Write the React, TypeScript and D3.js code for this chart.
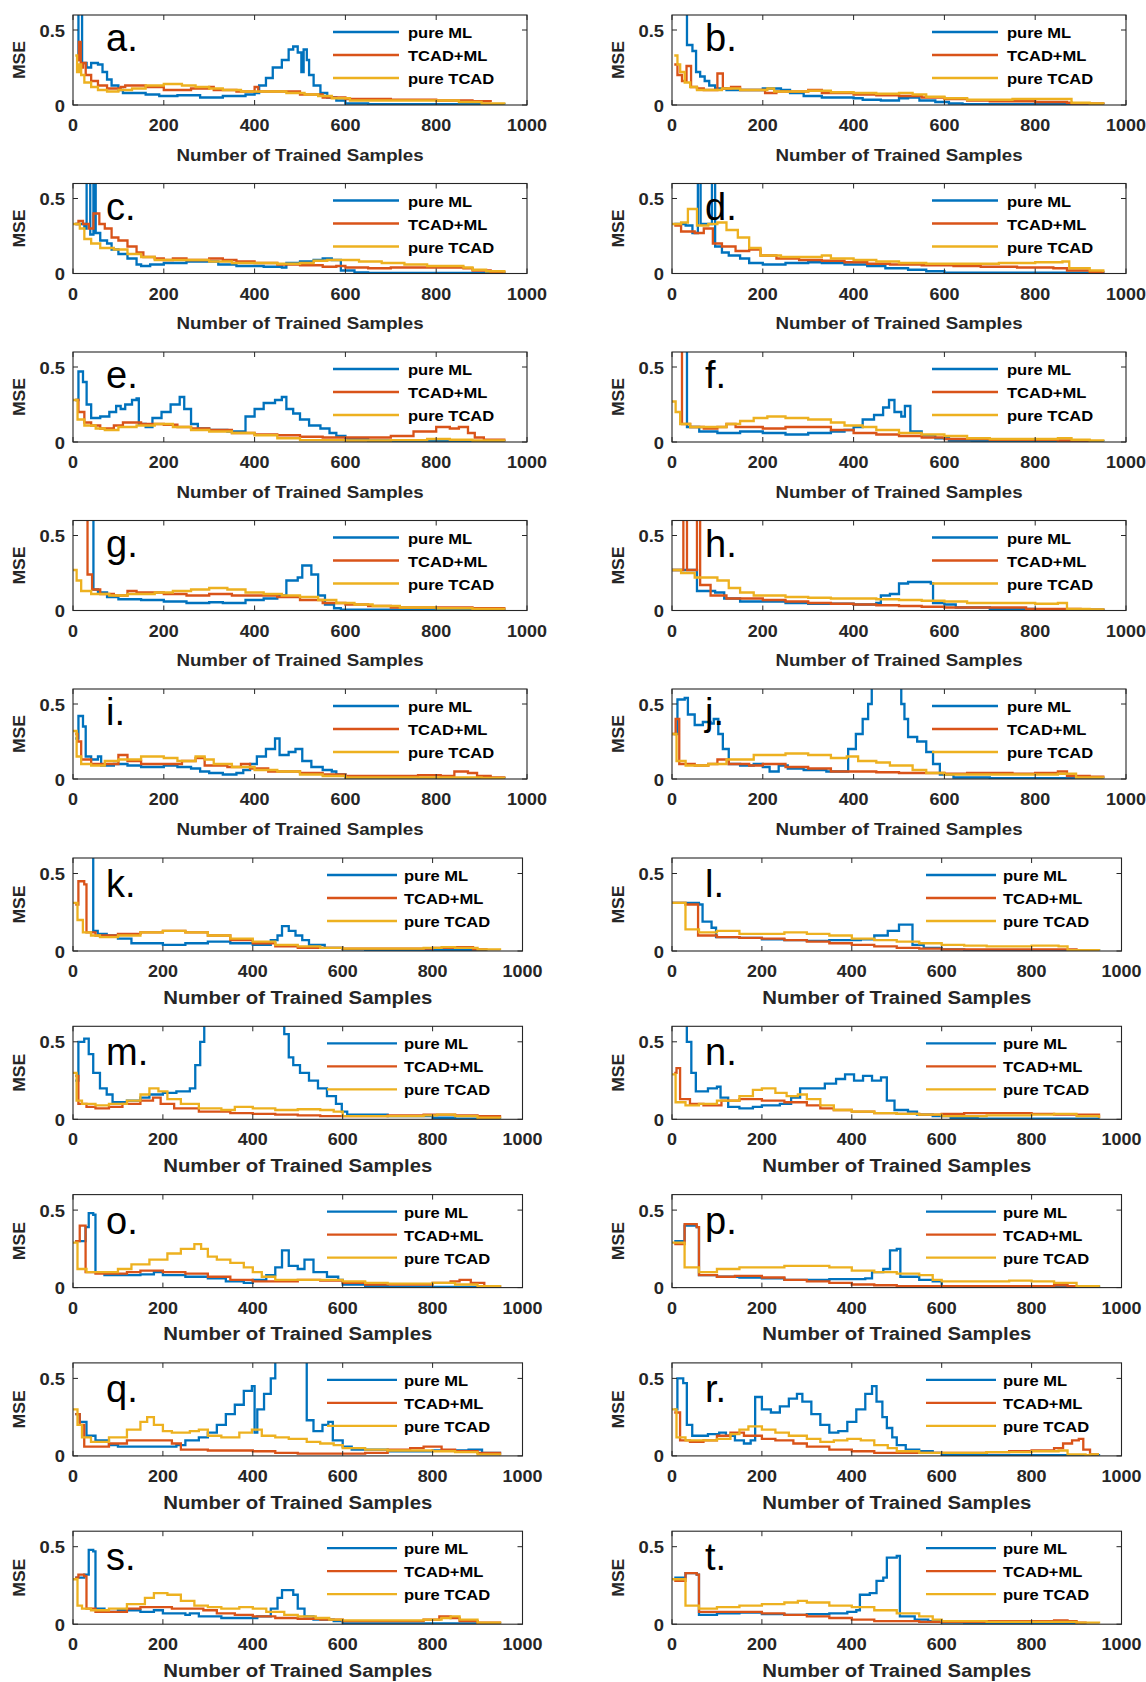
import React from 'react';
import * as d3 from 'd3';

type Pt = [number, number];

const SERIES_NAMES = ['pure ML', 'TCAD+ML', 'pure TCAD'];
const SERIES_COLORS = ['#0072BD', '#D95319', '#EDB120'];
const X_TICKS = [0, 200, 400, 600, 800, 1000];
const Y_TICKS = [0, 0.5];
const X_DOMAIN: [number, number] = [0, 1000];
const Y_DOMAIN: [number, number] = [0, 0.6];
const PANEL_LABELS = ['a.', 'b.', 'c.', 'd.', 'e.', 'f.', 'g.', 'h.', 'i.', 'j.', 'k.', 'l.', 'm.', 'n.', 'o.', 'p.', 'q.', 'r.', 's.', 't.'];

// ---- a ----
const aML: Pt[] = [[10,0.3],[12,0.8],[20,0.28],[30,0.25],[40,0.28],[55,0.27],[65,0.22],[75,0.17],[85,0.13],[100,0.1],[110,0.08],[160,0.07],[190,0.06],[230,0.065],[280,0.05],[330,0.06],[380,0.07],[400,0.08],[410,0.13],[425,0.18],[440,0.25],[460,0.3],[475,0.37],[485,0.39],[495,0.35],[503,0.22],[508,0.37],[515,0.3],[520,0.2],[530,0.13],[545,0.08],[560,0.05],[580,0.03],[600,0.01],[650,0.005],[950,0.003]];
const aHY: Pt[] = [[8,0.3],[13,0.42],[17,0.25],[22,0.28],[28,0.2],[40,0.16],[55,0.13],[75,0.11],[105,0.12],[115,0.13],[160,0.12],[200,0.1],[260,0.11],[300,0.12],[310,0.1],[360,0.09],[400,0.12],[408,0.09],[450,0.09],[500,0.07],[550,0.05],[600,0.04],[700,0.035],[800,0.03],[880,0.025],[920,0.02]];
const aTC: Pt[] = [[5,0.33],[9,0.22],[14,0.27],[18,0.2],[25,0.15],[40,0.12],[55,0.1],[75,0.09],[100,0.1],[130,0.11],[160,0.13],[200,0.14],[240,0.13],[270,0.12],[300,0.11],[330,0.1],[370,0.09],[420,0.09],[470,0.08],[510,0.07],[540,0.06],[570,0.045],[610,0.03],[700,0.03],[800,0.03],[850,0.02],[900,0.01],[950,0.005]];
// ---- b ----
const bML: Pt[] = [[20,0.8],[33,0.4],[45,0.36],[53,0.22],[62,0.19],[72,0.16],[82,0.13],[95,0.11],[120,0.1],[160,0.1],[200,0.11],[240,0.1],[260,0.08],[290,0.06],[330,0.05],[400,0.045],[420,0.035],[460,0.03],[500,0.045],[520,0.05],[545,0.03],[580,0.02],[610,0.01],[640,0.005],[950,0.003]];
const bHY: Pt[] = [[5,0.27],[12,0.2],[22,0.16],[32,0.26],[42,0.12],[55,0.11],[70,0.1],[95,0.1],[100,0.21],[112,0.11],[130,0.12],[150,0.1],[200,0.1],[205,0.08],[230,0.09],[260,0.09],[300,0.1],[330,0.08],[400,0.07],[450,0.065],[500,0.06],[550,0.05],[600,0.04],[650,0.03],[700,0.025],[800,0.02],[870,0.015],[880,0.01],[950,0.005]];
const bTC: Pt[] = [[5,0.33],[12,0.27],[18,0.22],[28,0.15],[40,0.12],[55,0.1],[80,0.1],[110,0.11],[150,0.1],[200,0.1],[210,0.11],[225,0.09],[270,0.09],[300,0.095],[350,0.085],[400,0.08],[450,0.075],[500,0.08],[530,0.07],[560,0.055],[600,0.045],[650,0.035],[700,0.035],[750,0.04],[870,0.04],[880,0.015],[920,0.01],[950,0.005]];
// ---- c ----
const cML: Pt[] = [[5,0.33],[25,0.3],[30,0.8],[38,0.26],[45,0.8],[50,0.27],[60,0.22],[75,0.2],[85,0.16],[100,0.13],[120,0.1],[140,0.06],[150,0.05],[170,0.06],[200,0.07],[250,0.08],[300,0.08],[320,0.06],[360,0.05],[420,0.045],[460,0.04],[470,0.07],[500,0.08],[530,0.09],[550,0.1],[570,0.09],[590,0.02],[620,0.008],[650,0.004],[950,0.003]];
const cHY: Pt[] = [[5,0.33],[12,0.35],[22,0.33],[35,0.3],[45,0.4],[58,0.33],[70,0.3],[85,0.24],[100,0.22],[120,0.18],[140,0.14],[155,0.11],[180,0.1],[200,0.09],[220,0.1],[250,0.09],[300,0.1],[330,0.09],[360,0.08],[400,0.07],[450,0.06],[500,0.055],[550,0.045],[580,0.05],[600,0.04],[650,0.035],[700,0.04],[800,0.04],[860,0.035],[880,0.02],[920,0.01],[950,0.005]];
const cTC: Pt[] = [[0,0.33],[15,0.3],[25,0.23],[40,0.2],[60,0.17],[90,0.16],[120,0.13],[150,0.11],[180,0.09],[250,0.09],[300,0.08],[350,0.07],[400,0.07],[450,0.065],[500,0.07],[530,0.085],[560,0.09],[600,0.09],[630,0.08],[680,0.07],[730,0.06],[780,0.05],[860,0.04],[880,0.025],[910,0.015],[950,0.005]];
// ---- d ----
const dML: Pt[] = [[5,0.33],[30,0.32],[45,0.27],[57,0.8],[63,0.33],[88,0.8],[95,0.18],[110,0.14],[125,0.12],[150,0.1],[170,0.07],[200,0.06],[250,0.07],[300,0.075],[330,0.07],[380,0.06],[430,0.05],[470,0.035],[520,0.025],[560,0.015],[600,0.005],[950,0.003]];
const dHY: Pt[] = [[5,0.32],[20,0.28],[50,0.27],[70,0.3],[90,0.2],[110,0.18],[140,0.15],[170,0.16],[195,0.12],[230,0.1],[280,0.09],[330,0.085],[380,0.075],[430,0.065],[480,0.06],[550,0.055],[620,0.05],[680,0.045],[760,0.04],[840,0.035],[870,0.02],[920,0.01],[950,0.005]];
const dTC: Pt[] = [[0,0.33],[20,0.34],[35,0.43],[55,0.32],[80,0.33],[100,0.34],[120,0.29],[145,0.24],[170,0.17],[195,0.12],[240,0.11],[300,0.11],[330,0.12],[350,0.1],[400,0.09],[450,0.08],[500,0.07],[560,0.065],[650,0.065],[720,0.07],[800,0.075],[860,0.08],[875,0.035],[920,0.02],[950,0.01]];
// ---- e ----
const eML: Pt[] = [[5,0.28],[12,0.47],[22,0.4],[30,0.25],[40,0.16],[60,0.17],[80,0.2],[95,0.24],[105,0.22],[115,0.25],[130,0.28],[140,0.29],[145,0.12],[160,0.1],[175,0.16],[195,0.2],[215,0.25],[235,0.3],[245,0.22],[260,0.12],[275,0.09],[300,0.08],[340,0.07],[370,0.07],[380,0.17],[400,0.22],[420,0.26],[445,0.28],[460,0.3],[470,0.22],[485,0.19],[500,0.15],[520,0.11],[545,0.09],[565,0.06],[580,0.04],[600,0.02],[650,0.01],[700,0.005],[950,0.003]];
const eHY: Pt[] = [[5,0.28],[12,0.2],[25,0.13],[40,0.11],[60,0.09],[90,0.11],[110,0.13],[150,0.12],[200,0.115],[230,0.1],[260,0.09],[300,0.08],[350,0.06],[400,0.05],[450,0.045],[500,0.035],[550,0.03],[650,0.03],[700,0.04],[750,0.07],[800,0.1],[830,0.09],[850,0.1],[870,0.06],[885,0.03],[905,0.015],[950,0.005]];
const eTC: Pt[] = [[0,0.28],[10,0.15],[25,0.11],[50,0.09],[70,0.08],[100,0.1],[140,0.11],[180,0.12],[220,0.1],[260,0.08],[300,0.07],[350,0.06],[400,0.045],[450,0.025],[500,0.012],[600,0.01],[700,0.012],[780,0.02],[830,0.015],[880,0.01],[950,0.005]];
// ---- f ----
const fML: Pt[] = [[5,0.8],[33,0.1],[60,0.07],[100,0.06],[150,0.07],[200,0.06],[250,0.05],[300,0.06],[350,0.07],[380,0.08],[400,0.1],[420,0.15],[445,0.18],[465,0.23],[478,0.28],[490,0.2],[505,0.17],[513,0.24],[525,0.07],[550,0.045],[580,0.025],[610,0.01],[660,0.005],[950,0.003]];
const fHY: Pt[] = [[5,0.8],[22,0.12],[40,0.1],[70,0.09],[100,0.1],[120,0.12],[140,0.1],[200,0.09],[250,0.1],[300,0.1],[350,0.08],[400,0.06],[450,0.05],[500,0.04],[550,0.03],[600,0.02],[700,0.015],[800,0.015],[850,0.01],[920,0.005]];
const fTC: Pt[] = [[0,0.27],[8,0.2],[18,0.12],[40,0.1],[80,0.1],[120,0.12],[150,0.14],[180,0.16],[210,0.17],[250,0.16],[300,0.15],[350,0.13],[380,0.11],[420,0.1],[450,0.08],[500,0.06],[550,0.05],[600,0.04],[650,0.025],[700,0.02],[800,0.02],[850,0.025],[880,0.015],[920,0.01],[950,0.005]];
// ---- g ----
const gML: Pt[] = [[5,0.8],[45,0.14],[55,0.12],[75,0.09],[100,0.075],[150,0.07],[200,0.06],[250,0.05],[300,0.055],[330,0.05],[380,0.07],[420,0.08],[450,0.1],[470,0.2],[495,0.22],[505,0.3],[525,0.24],[540,0.1],[555,0.04],[575,0.015],[590,0.005],[950,0.003]];
const gHY: Pt[] = [[10,0.8],[32,0.24],[42,0.14],[60,0.11],[90,0.1],[120,0.13],[140,0.12],[200,0.11],[250,0.1],[300,0.11],[350,0.1],[400,0.1],[450,0.09],[500,0.07],[550,0.05],[600,0.04],[650,0.03],[700,0.02],[800,0.02],[880,0.015],[950,0.005]];
const gTC: Pt[] = [[0,0.27],[8,0.2],[18,0.13],[40,0.11],[80,0.1],[120,0.11],[180,0.12],[220,0.13],[260,0.14],[300,0.15],[340,0.14],[380,0.12],[420,0.11],[460,0.1],[500,0.09],[540,0.07],[580,0.05],[620,0.04],[660,0.03],[720,0.02],[800,0.015],[880,0.01],[950,0.005]];
// ---- h ----
const hML: Pt[] = [[0,0.27],[55,0.13],[95,0.12],[115,0.08],[150,0.06],[200,0.06],[250,0.05],[300,0.045],[400,0.04],[450,0.05],[460,0.1],[480,0.11],[500,0.18],[520,0.19],[570,0.18],[575,0.05],[600,0.04],[625,0.02],[700,0.01],[800,0.005],[950,0.003]];
const hHY: Pt[] = [[0,0.27],[25,0.8],[33,0.27],[55,0.8],[62,0.17],[85,0.1],[120,0.08],[200,0.07],[250,0.06],[300,0.05],[350,0.045],[400,0.04],[450,0.035],[500,0.03],[550,0.025],[600,0.02],[700,0.02],[780,0.01],[900,0.005],[950,0.003]];
const hTC: Pt[] = [[0,0.27],[20,0.25],[50,0.22],[100,0.2],[125,0.15],[150,0.12],[180,0.1],[250,0.09],[300,0.085],[350,0.08],[450,0.075],[500,0.07],[550,0.065],[600,0.06],[650,0.05],[700,0.05],[800,0.045],[850,0.05],[870,0.01],[920,0.008],[950,0.005]];
// ---- i ----
const iML: Pt[] = [[5,0.27],[12,0.42],[22,0.35],[28,0.15],[40,0.13],[55,0.15],[62,0.09],[90,0.1],[120,0.09],[150,0.08],[200,0.09],[230,0.08],[260,0.07],[280,0.05],[300,0.04],[330,0.03],[360,0.04],[375,0.06],[390,0.1],[405,0.15],[425,0.2],[445,0.27],[455,0.16],[475,0.18],[490,0.2],[505,0.12],[525,0.08],[550,0.06],[570,0.05],[580,0.03],[600,0.01],[700,0.005],[950,0.003]];
const iHY: Pt[] = [[5,0.3],[10,0.25],[18,0.13],[40,0.1],[80,0.1],[100,0.16],[120,0.12],[150,0.1],[200,0.1],[240,0.12],[270,0.14],[290,0.09],[340,0.08],[370,0.1],[390,0.07],[430,0.05],[500,0.04],[550,0.03],[600,0.02],[700,0.02],[760,0.025],[810,0.02],[840,0.05],[870,0.04],[890,0.02],[920,0.01],[950,0.005]];
const iTC: Pt[] = [[0,0.32],[8,0.15],[18,0.1],[40,0.09],[70,0.12],[100,0.13],[150,0.15],[200,0.14],[230,0.12],[270,0.15],[290,0.13],[310,0.1],[350,0.08],[400,0.06],[450,0.05],[480,0.05],[500,0.03],[550,0.02],[600,0.01],[800,0.01],[900,0.008],[950,0.005]];
// ---- j ----
const jML: Pt[] = [[5,0.3],[12,0.53],[28,0.54],[35,0.43],[50,0.36],[68,0.38],[85,0.37],[92,0.4],[102,0.3],[112,0.2],[125,0.1],[150,0.09],[180,0.1],[200,0.08],[215,0.05],[235,0.09],[255,0.07],[290,0.06],[340,0.05],[380,0.05],[388,0.2],[405,0.3],[420,0.4],[432,0.5],[440,0.8],[505,0.5],[512,0.4],[520,0.28],[540,0.25],[560,0.18],[575,0.1],[590,0.03],[620,0.01],[700,0.005],[950,0.003]];
const jHY: Pt[] = [[0,0.3],[8,0.4],[16,0.1],[50,0.09],[80,0.1],[100,0.13],[125,0.1],[170,0.09],[200,0.1],[250,0.08],[300,0.07],[350,0.05],[400,0.05],[450,0.045],[500,0.04],[600,0.035],[650,0.04],[700,0.04],[750,0.035],[800,0.04],[850,0.05],[870,0.02],[920,0.015],[950,0.01]];
const jTC: Pt[] = [[0,0.3],[10,0.12],[30,0.09],[80,0.1],[120,0.13],[180,0.16],[250,0.17],[300,0.16],[350,0.14],[385,0.15],[410,0.12],[450,0.11],[480,0.09],[530,0.06],[560,0.04],[600,0.03],[700,0.03],[800,0.03],[850,0.035],[890,0.01],[950,0.005]];
// ---- k ----
const kML: Pt[] = [[30,0.8],[45,0.13],[55,0.11],[75,0.1],[100,0.08],[130,0.05],[200,0.04],[250,0.05],[300,0.06],[350,0.05],[400,0.04],[440,0.07],[455,0.1],[465,0.16],[480,0.13],[495,0.1],[510,0.07],[525,0.04],[560,0.02],[600,0.01],[650,0.005],[920,0.003]];
const kHY: Pt[] = [[5,0.3],[12,0.45],[25,0.43],[30,0.12],[50,0.1],[100,0.11],[150,0.12],[200,0.13],[250,0.12],[300,0.1],[350,0.07],[400,0.05],[450,0.03],[500,0.02],[600,0.015],[700,0.015],[800,0.02],[850,0.025],[890,0.01],[920,0.005]];
const kTC: Pt[] = [[0,0.31],[10,0.2],[22,0.12],[40,0.1],[60,0.09],[100,0.1],[150,0.12],[200,0.13],[250,0.12],[300,0.1],[350,0.08],[400,0.06],[450,0.04],[500,0.03],[550,0.02],[600,0.015],[700,0.015],[780,0.02],[820,0.025],[850,0.02],[900,0.01],[950,0.005]];
// ---- l ----
const lML: Pt[] = [[0,0.31],[60,0.3],[68,0.19],[88,0.15],[98,0.09],[150,0.085],[200,0.075],[250,0.07],[300,0.065],[350,0.07],[420,0.075],[450,0.1],[480,0.13],[505,0.17],[535,0.04],[560,0.02],[600,0.01],[650,0.005],[950,0.003]];
const lHY: Pt[] = [[0,0.31],[30,0.3],[58,0.1],[100,0.09],[150,0.085],[200,0.08],[250,0.07],[300,0.06],[350,0.05],[400,0.04],[450,0.03],[500,0.02],[550,0.015],[600,0.01],[850,0.01],[900,0.005],[920,0.003]];
const lTC: Pt[] = [[0,0.31],[30,0.14],[60,0.12],[100,0.13],[150,0.11],[200,0.11],[250,0.12],[300,0.11],[350,0.1],[400,0.08],[450,0.07],[500,0.06],[550,0.05],[600,0.04],[650,0.035],[700,0.03],[800,0.035],[860,0.03],[880,0.005],[950,0.003]];
// ---- m ----
const mML: Pt[] = [[5,0.25],[12,0.5],[25,0.52],[35,0.42],[45,0.3],[60,0.2],[75,0.16],[88,0.11],[120,0.12],[150,0.14],[170,0.16],[200,0.17],[230,0.18],[260,0.2],[272,0.35],[283,0.5],[292,0.8],[470,0.55],[480,0.4],[490,0.35],[505,0.3],[525,0.25],[545,0.2],[565,0.15],[585,0.1],[598,0.05],[610,0.03],[700,0.02],[800,0.01],[850,0.005],[950,0.003]];
const mHY: Pt[] = [[5,0.28],[12,0.1],[30,0.08],[50,0.07],[80,0.08],[110,0.1],[150,0.12],[178,0.14],[195,0.1],[225,0.07],[280,0.05],[350,0.04],[400,0.035],[450,0.03],[500,0.025],[550,0.02],[600,0.02],[700,0.025],[780,0.03],[850,0.025],[900,0.02],[950,0.01]];
const mTC: Pt[] = [[0,0.3],[8,0.12],[20,0.1],[50,0.09],[80,0.1],[120,0.12],[150,0.16],[170,0.2],[190,0.18],[210,0.13],[240,0.1],[280,0.07],[330,0.06],[360,0.08],[400,0.07],[450,0.06],[500,0.065],[550,0.06],[580,0.05],[600,0.02],[700,0.02],[780,0.025],[810,0.03],[850,0.02],[900,0.01],[950,0.005]];
// ---- n ----
const nML: Pt[] = [[12,0.8],[33,0.5],[43,0.3],[53,0.18],[80,0.2],[100,0.21],[108,0.14],[125,0.08],[150,0.07],[180,0.08],[200,0.09],[240,0.1],[265,0.14],[285,0.2],[320,0.2],[340,0.23],[365,0.26],[385,0.29],[405,0.25],[425,0.28],[445,0.25],[465,0.27],[478,0.12],[495,0.06],[525,0.05],[545,0.03],[580,0.02],[620,0.01],[680,0.005],[950,0.003]];
const nHY: Pt[] = [[5,0.3],[10,0.33],[18,0.13],[40,0.1],[70,0.09],[110,0.12],[150,0.13],[200,0.12],[250,0.11],[300,0.09],[330,0.07],[360,0.06],[400,0.05],[450,0.04],[500,0.035],[550,0.03],[600,0.035],[650,0.04],[700,0.04],[800,0.035],[850,0.03],[900,0.03],[950,0.01]];
const nTC: Pt[] = [[0,0.29],[8,0.11],[30,0.09],[60,0.1],[100,0.12],[150,0.15],[180,0.19],[200,0.2],[230,0.17],[255,0.15],[280,0.16],[300,0.13],[330,0.09],[360,0.06],[400,0.05],[450,0.04],[500,0.035],[550,0.03],[600,0.02],[700,0.025],[800,0.03],[850,0.035],[900,0.02],[950,0.01]];
// ---- o ----
const oML: Pt[] = [[5,0.3],[28,0.39],[35,0.48],[45,0.47],[50,0.1],[70,0.08],[100,0.08],[150,0.085],[180,0.1],[200,0.08],[250,0.07],[300,0.06],[340,0.04],[380,0.03],[400,0.05],[430,0.08],[450,0.13],[465,0.24],[480,0.14],[500,0.12],[515,0.18],[535,0.1],[565,0.07],[590,0.05],[600,0.02],[650,0.01],[700,0.005],[950,0.003]];
const oHY: Pt[] = [[5,0.3],[15,0.4],[28,0.1],[50,0.09],[80,0.09],[120,0.1],[150,0.11],[200,0.1],[250,0.09],[300,0.07],[350,0.05],[400,0.04],[450,0.04],[500,0.05],[550,0.045],[600,0.03],[650,0.02],[700,0.02],[800,0.03],[840,0.04],[860,0.05],[885,0.03],[915,0.01],[950,0.005]];
const oTC: Pt[] = [[0,0.29],[10,0.12],[30,0.1],[70,0.1],[100,0.12],[130,0.15],[170,0.18],[210,0.22],[240,0.25],[270,0.28],[285,0.25],[300,0.2],[320,0.18],[350,0.16],[380,0.13],[400,0.1],[420,0.07],[450,0.05],[550,0.05],[600,0.04],[650,0.03],[700,0.025],[800,0.03],[850,0.02],[900,0.01],[950,0.005]];
// ---- p ----
const pML: Pt[] = [[5,0.3],[28,0.4],[55,0.39],[60,0.08],[100,0.07],[150,0.065],[200,0.06],[250,0.05],[300,0.05],[350,0.055],[430,0.06],[445,0.1],[470,0.12],[485,0.24],[500,0.25],[508,0.07],[550,0.05],[580,0.04],[600,0.01],[650,0.005],[950,0.003]];
const pHY: Pt[] = [[5,0.28],[28,0.41],[55,0.39],[60,0.08],[100,0.07],[140,0.075],[200,0.065],[250,0.05],[300,0.04],[350,0.03],[400,0.02],[450,0.015],[500,0.01],[800,0.01],[850,0.015],[880,0.01],[900,0.005]];
const pTC: Pt[] = [[0,0.29],[28,0.13],[60,0.1],[100,0.12],[150,0.13],[200,0.13],[250,0.14],[300,0.14],[350,0.13],[400,0.11],[450,0.1],[500,0.09],[550,0.08],[580,0.05],[600,0.04],[700,0.04],[750,0.045],[800,0.04],[850,0.03],[900,0.01],[950,0.005]];
// ---- q ----
const qML: Pt[] = [[5,0.27],[15,0.22],[30,0.13],[50,0.1],[80,0.07],[100,0.06],[200,0.06],[230,0.07],[250,0.1],[280,0.12],[300,0.15],[320,0.2],[340,0.27],[360,0.33],[380,0.42],[398,0.45],[404,0.15],[410,0.3],[425,0.4],[440,0.5],[450,0.8],[520,0.23],[535,0.16],[555,0.2],[568,0.22],[578,0.1],[600,0.06],[620,0.04],[700,0.03],[800,0.035],[880,0.04],[910,0.02],[950,0.01]];
const qHY: Pt[] = [[5,0.27],[15,0.2],[25,0.06],[50,0.06],[80,0.08],[120,0.1],[200,0.1],[220,0.08],[240,0.04],[300,0.035],[400,0.03],[450,0.02],[500,0.015],[600,0.015],[650,0.02],[700,0.04],[750,0.05],[780,0.06],[820,0.04],[850,0.03],[900,0.02],[950,0.005]];
const qTC: Pt[] = [[0,0.3],[10,0.2],[20,0.12],[40,0.09],[80,0.12],[120,0.17],[150,0.22],[165,0.25],[180,0.2],[200,0.16],[220,0.15],[260,0.16],[280,0.17],[300,0.13],[330,0.12],[370,0.15],[398,0.17],[420,0.13],[450,0.12],[480,0.11],[520,0.09],[550,0.08],[580,0.07],[600,0.05],[650,0.04],[700,0.035],[800,0.03],[850,0.025],[900,0.01],[950,0.005]];
// ---- r ----
const rML: Pt[] = [[5,0.3],[12,0.5],[25,0.47],[33,0.2],[45,0.13],[80,0.14],[105,0.15],[120,0.13],[140,0.1],[160,0.08],[175,0.1],[185,0.38],[200,0.3],[220,0.28],[240,0.32],[260,0.37],[278,0.4],[290,0.35],[310,0.27],[330,0.2],[350,0.15],[370,0.16],[390,0.22],[410,0.3],[430,0.4],[445,0.45],[455,0.35],[468,0.25],[478,0.18],[490,0.12],[500,0.07],[520,0.04],[550,0.03],[580,0.02],[600,0.005],[950,0.003]];
const rHY: Pt[] = [[5,0.28],[18,0.1],[40,0.09],[70,0.1],[100,0.13],[130,0.15],[160,0.13],[200,0.11],[230,0.1],[270,0.08],[300,0.06],[350,0.04],[400,0.03],[450,0.02],[600,0.02],[700,0.025],[750,0.03],[800,0.035],[850,0.05],[870,0.08],[890,0.1],[905,0.11],[915,0.04],[930,0.01],[950,0.01]];
const rTC: Pt[] = [[0,0.3],[10,0.12],[30,0.1],[60,0.1],[100,0.11],[130,0.14],[150,0.17],[170,0.19],[200,0.17],[230,0.15],[260,0.13],[300,0.11],[330,0.09],[360,0.1],[390,0.11],[420,0.1],[450,0.07],[480,0.05],[500,0.03],[550,0.02],[600,0.02],[700,0.025],[800,0.03],[860,0.035],[880,0.01],[920,0.005],[930,0.01],[950,0.01]];
// ---- s ----
const sML: Pt[] = [[5,0.3],[25,0.32],[35,0.48],[45,0.47],[50,0.1],[70,0.08],[100,0.09],[150,0.08],[180,0.09],[200,0.07],[250,0.06],[260,0.07],[280,0.05],[330,0.04],[380,0.04],[410,0.05],[440,0.1],[455,0.17],[465,0.22],[490,0.19],[500,0.1],[515,0.05],[535,0.03],[580,0.02],[600,0.005],[950,0.003]];
const sHY: Pt[] = [[5,0.3],[12,0.32],[25,0.31],[30,0.1],[50,0.08],[80,0.08],[120,0.1],[150,0.11],[180,0.11],[220,0.1],[260,0.1],[290,0.09],[320,0.07],[360,0.06],[400,0.05],[450,0.04],[500,0.035],[550,0.03],[600,0.02],[700,0.02],[780,0.03],[815,0.05],[840,0.04],[860,0.02],[900,0.01],[950,0.005]];
const sTC: Pt[] = [[0,0.29],[10,0.12],[20,0.1],[40,0.09],[80,0.1],[120,0.13],[160,0.17],[180,0.2],[210,0.19],[240,0.15],[270,0.12],[300,0.11],[330,0.1],[370,0.11],[400,0.1],[430,0.08],[470,0.06],[500,0.05],[540,0.04],[570,0.03],[600,0.025],[700,0.025],[780,0.03],[820,0.04],[840,0.05],[860,0.03],[900,0.01],[950,0.005]];
// ---- t ----
const tML: Pt[] = [[5,0.3],[30,0.33],[55,0.32],[60,0.06],[100,0.07],[150,0.075],[200,0.065],[250,0.06],[300,0.065],[350,0.07],[390,0.08],[410,0.09],[418,0.19],[440,0.2],[455,0.28],[470,0.3],[478,0.43],[500,0.44],[507,0.05],[540,0.03],[570,0.02],[600,0.01],[650,0.005],[920,0.003]];
const tHY: Pt[] = [[5,0.28],[30,0.33],[55,0.32],[60,0.08],[150,0.08],[200,0.07],[250,0.06],[300,0.05],[350,0.04],[400,0.03],[450,0.02],[500,0.02],[550,0.015],[600,0.015],[700,0.02],[800,0.02],[850,0.025],[880,0.02],[900,0.01],[920,0.005]];
const tTC: Pt[] = [[0,0.29],[30,0.12],[60,0.1],[100,0.11],[150,0.12],[200,0.13],[250,0.14],[280,0.15],[300,0.14],[350,0.12],[400,0.11],[450,0.09],[500,0.07],[550,0.05],[580,0.03],[600,0.02],[700,0.015],[800,0.015],[900,0.01],[950,0.005]];

const PANEL_SERIES: Pt[][][] = [
  [aML, aHY, aTC], [bML, bHY, bTC], [cML, cHY, cTC], [dML, dHY, dTC],
  [eML, eHY, eTC], [fML, fHY, fTC], [gML, gHY, gTC], [hML, hHY, hTC],
  [iML, iHY, iTC], [jML, jHY, jTC], [kML, kHY, kTC], [lML, lHY, lTC],
  [mML, mHY, mTC], [nML, nHY, nTC], [oML, oHY, oTC], [pML, pHY, pTC],
  [qML, qHY, qTC], [rML, rHY, rTC], [sML, sHY, sTC], [tML, tHY, tTC],
];

const FONT = '"Liberation Sans", Arial, Helvetica, sans-serif';
const AXIS_COLOR = '#262626';

function Panel({ idx }: { idx: number }) {
  const row = Math.floor(idx / 2);
  const col = idx % 2;
  const lower = row >= 5;
  const left = col === 0 ? 73 : 672;
  const width = lower ? 449.5 : 454;
  const height = lower ? 93 : 90;
  const top = lower ? 858 + (row - 5) * 168.3 : 15 + row * 168.5;

  const x = d3.scaleLinear().domain(X_DOMAIN).range([0, width]);
  const y = d3.scaleLinear().domain(Y_DOMAIN).range([height, 0]);
  const line = d3.line<Pt>().x(d => x(d[0])).y(d => y(d[1])).curve(d3.curveStepAfter);
  const clipId = `clip-${idx}`;

  const legLine0 = lower ? 254 : 260;
  const legLine1 = lower ? 324 : 326;
  const legText = lower ? 331 : 335;
  const legRows = [17, 40, 63];
  const xLabelSize = lower ? 18.5 : 17;
  const xLabelOffset = lower ? 46 : 50;

  return (
    <g transform={`translate(${left},${top})`}>
      <defs>
        <clipPath id={clipId}>
          <rect x={0} y={0} width={width} height={height} />
        </clipPath>
      </defs>
      <rect x={0} y={0} width={width} height={height} fill="#fff" />
      <g clipPath={`url(#${clipId})`}>
        {PANEL_SERIES[idx].map((s, k) => (
          <path key={k} d={line(s) || ''} fill="none" stroke={SERIES_COLORS[k]} strokeWidth={2.3} strokeLinejoin="miter" />
        ))}
      </g>
      <rect x={0} y={0} width={width} height={height} fill="none" stroke={AXIS_COLOR} strokeWidth={1.1} />
      {X_TICKS.map(t => (
        <g key={'xt' + t}>
          <line x1={x(t)} x2={x(t)} y1={height} y2={height - 5} stroke={AXIS_COLOR} strokeWidth={1} />
          <line x1={x(t)} x2={x(t)} y1={0} y2={5} stroke={AXIS_COLOR} strokeWidth={1} />
          <text transform={`translate(${x(t)},${height + 21}) scale(1.12,1)`} textAnchor="middle" dominantBaseline="central"
            fontFamily={FONT} fontWeight="bold" fontSize={16} fill={AXIS_COLOR}>{t}</text>
        </g>
      ))}
      {Y_TICKS.map(t => (
        <g key={'yt' + t}>
          <line x1={0} x2={5} y1={y(t)} y2={y(t)} stroke={AXIS_COLOR} strokeWidth={1} />
          <line x1={width} x2={width - 5} y1={y(t)} y2={y(t)} stroke={AXIS_COLOR} strokeWidth={1} />
          <text transform={`translate(-8,${y(t) + 1}) scale(1.15,1)`} textAnchor="end" dominantBaseline="central"
            fontFamily={FONT} fontWeight="bold" fontSize={16} fill={AXIS_COLOR}>{t}</text>
        </g>
      ))}
      <text transform={`translate(-53,${height / 2}) rotate(-90) scale(1.1,1)`} textAnchor="middle" dominantBaseline="central"
        fontFamily={FONT} fontWeight="bold" fontSize={16} fill={AXIS_COLOR}>MSE</text>
      <text transform={`translate(${width / 2},${height + xLabelOffset}) scale(1.1,1)`} textAnchor="middle" dominantBaseline="central"
        fontFamily={FONT} fontWeight="bold" fontSize={xLabelSize} fill={AXIS_COLOR}>Number of Trained Samples</text>
      <text x={33} y={lower ? 39 : 36} fontFamily={FONT} fontSize={38} fill="#000">{PANEL_LABELS[idx]}</text>
      {SERIES_NAMES.map((name, k) => (
        <g key={name}>
          <line x1={legLine0} x2={legLine1} y1={legRows[k]} y2={legRows[k]} stroke={SERIES_COLORS[k]} strokeWidth={2.3} />
          <text transform={`translate(${legText},${legRows[k] + 1}) scale(1.18,1)`} dominantBaseline="central"
            fontFamily={FONT} fontWeight="bold" fontSize={14} fill="#000">{name}</text>
        </g>
      ))}
    </g>
  );
}

export default function App() {
  return (
    <svg width={1146} height={1682} viewBox="0 0 1146 1682"
      style={{ position: 'absolute', left: 0, top: 0, background: '#fff' }}>
      <rect x={0} y={0} width={1146} height={1682} fill="#fff" />
      {PANEL_LABELS.map((_, i) => <Panel key={i} idx={i} />)}
    </svg>
  );
}
